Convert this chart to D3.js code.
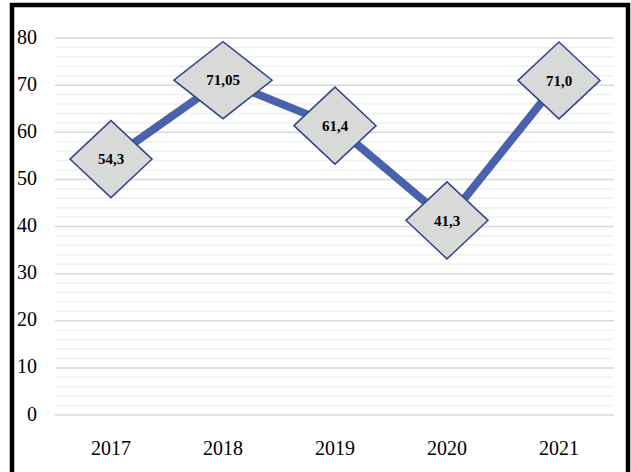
<!DOCTYPE html>
<html>
<head>
<meta charset="utf-8">
<script src="https://cdn.jsdelivr.net/npm/d3@7"></script>
<style>
  body { margin: 0; background: #fff; }
  svg { display: block; }
  svg text { font-family: "Liberation Serif", "Times New Roman", Times, serif; }
</style>
</head>
<body>
<div id="chart"></div>
<script>
var width = 631;
var height = 472;

// data
var years = ["2017", "2018", "2019", "2020", "2021"];
var values = [54.3, 71.05, 61.4, 41.3, 71.0];
var labels = ["54,3", "71,05", "61,4", "41,3", "71,0"];
var yTicks = [0, 10, 20, 30, 40, 50, 60, 70, 80];

var serif = "'Liberation Serif', 'Times New Roman', Times, serif";

var svg = d3.select("#chart").append("svg")
	.attr("width", width)
	.attr("height", height);

var xScale = d3.scaleBand().domain(years).range([55, 615]);
var yScale = d3.scaleLinear().domain([0, 80]).range([415, 38]);

// minor gridlines every 2
svg.append("g")
	.selectAll("line")
	.data(d3.range(0, 81, 2).filter(function(d) { return d % 10 != 0; }))
	.enter().append("line")
	.attr("x1", 55).attr("x2", 614)
	.attr("y1", function(d) { return yScale(d); })
	.attr("y2", function(d) { return yScale(d); })
	.attr("stroke", "#f0f0f0")
	.attr("stroke-width", 1.5);

// major gridlines
svg.append("g")
	.selectAll("line")
	.data(yTicks)
	.enter().append("line")
	.attr("x1", 55).attr("x2", 614)
	.attr("y1", function(d) { return yScale(d); })
	.attr("y2", function(d) { return yScale(d); })
	.attr("stroke", "#d9d9d9")
	.attr("stroke-width", 1.5);

// y axis
var yAxis = d3.axisLeft(yScale).tickValues(yTicks).tickSize(0).tickPadding(0);
var gy = svg.append("g")
	.attr("transform", "translate(37,0)")
	.call(yAxis)
	.attr("font-family", null);
gy.select(".domain").remove();
gy.selectAll("text")
	.style("font-family", serif)
	.style("font-size", "20px")
	.attr("fill", "#000")
	.attr("dy", "0.25em");

// x axis
var xAxis = d3.axisBottom(xScale).tickSize(0).tickPadding(0);
var gx = svg.append("g")
	.attr("transform", "translate(0,441)")
	.call(xAxis)
	.attr("font-family", null);
gx.select(".domain").remove();
gx.selectAll("text")
	.style("font-family", serif)
	.style("font-size", "20px")
	.attr("fill", "#000")
	.attr("dy", "0.71em");

// line
var line = d3.line()
	.x(function(d, i) { return xScale(years[i]) + xScale.bandwidth() / 2; })
	.y(function(d) { return yScale(d); });

svg.append("path")
	.datum(values)
	.attr("d", line)
	.attr("fill", "none")
	.attr("stroke", "#4862ad")
	.attr("stroke-width", 8);

// diamond labels
var marks = svg.append("g")
	.selectAll("g")
	.data(values)
	.enter().append("g")
	.attr("transform", function(d, i) {
		return "translate(" + (xScale(years[i]) + xScale.bandwidth() / 2) + "," + yScale(d) + ")";
	});

var diamonds = marks.append("path")
	.attr("fill", "#d9d9d9")
	.attr("stroke", "#2f4b85")
	.attr("stroke-width", 1.5);

var texts = marks.append("text")
	.attr("text-anchor", "middle")
	.attr("dy", "0.35em")
	.style("font-family", serif)
	.style("font-weight", "bold")
	.style("font-size", "15px")
	.attr("fill", "#000")
	.text(function(d, i) { return labels[i]; });

texts.each(function(d, i) {
	var tw = this.getComputedTextLength();
	var hw = (tw / 2 + 6) / 0.466;
	var hh = 38.5;
	d3.select(diamonds.nodes()[i])
		.attr("d", "M" + (-hw) + ",0L0," + (-hh) + "L" + hw + ",0L0," + hh + "Z");
});

// frame
svg.append("rect")
	.attr("x", 12)
	.attr("y", 5)
	.attr("width", 616)
	.attr("height", 480)
	.attr("fill", "none")
	.attr("stroke", "#000")
	.attr("stroke-width", 4.5);
</script>
</body>
</html>
